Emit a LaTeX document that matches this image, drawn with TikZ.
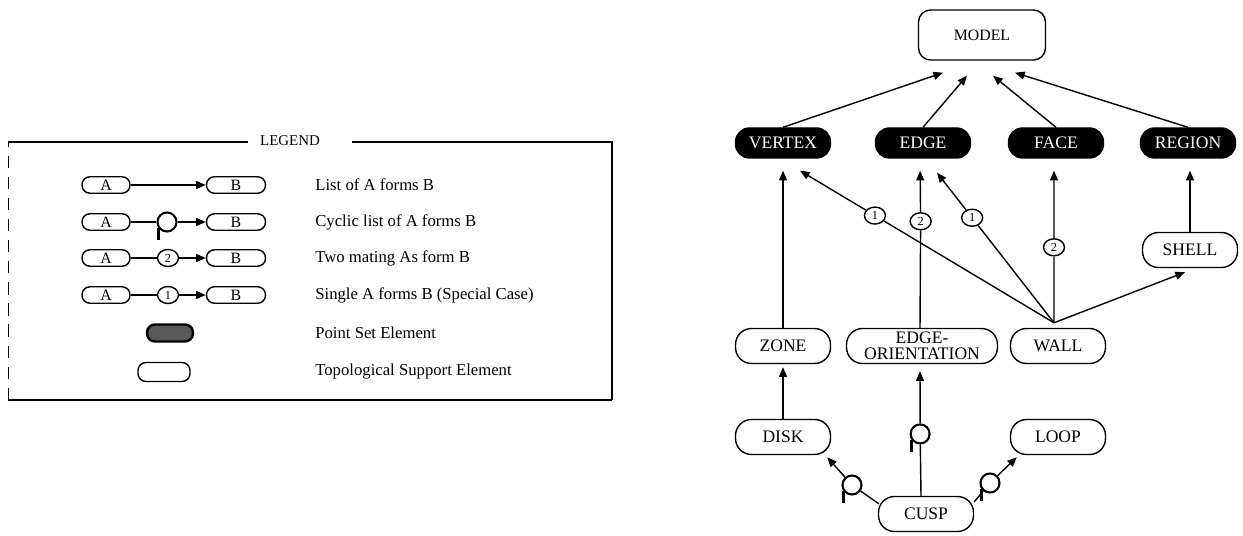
\documentclass[tikz,border=0pt]{standalone}
\usepackage{fontspec}
\setmainfont{Liberation Serif}
\usetikzlibrary{arrows.meta,calc,shapes.geometric}
\definecolor{tinta}{RGB}{0,0,0}
\definecolor{papel}{RGB}{255,255,255}

\tikzset{
  tse/.style={draw=tinta, line width=0.8pt, rounded corners=0.32cm, minimum width=1.9cm,
    minimum height=0.7cm, inner sep=1pt, align=center, font=\fontsize{10}{9}\selectfont},
  pse/.style={tse, minimum height=0.6cm, rounded corners=0.28cm, fill=tinta, text=papel},
  ltse/.style={draw=tinta, line width=0.8pt, rounded corners=0.16cm, minimum height=0.33cm,
    inner sep=1pt, font=\fontsize{9}{9}\selectfont},
  arr/.style={line width=0.8pt, -{Triangle[length=5.5pt,width=4.5pt]}},
  lnk/.style={line width=0.8pt},
  cnt/.style={ellipse, draw=tinta, line width=0.8pt, fill=papel, minimum width=0.42cm,
    minimum height=0.34cm, inner sep=0pt, font=\fontsize{7}{7}\selectfont},
  cyc/.style={circle, draw=tinta, line width=1.2pt, fill=papel, minimum size=0.38cm, inner sep=0pt},
  ltext/.style={anchor=west, inner sep=0pt, font=\fontsize{9.5}{10}\selectfont},
}

% cyclic list mark: ring with a short tail
\newcommand{\cycmark}[2]{%
  \node[cyc] (#1) at #2 {};
  \draw[line width=1.4pt] (#1.215) -- ++(0,-0.24cm);}

\begin{document}
\begin{tikzpicture}[x=0.02cm, y=-0.02cm]
  \useasboundingbox (0,0) rectangle (1243,536);

  % legend frame
  \node[font=\fontsize{8.5}{9}\selectfont] (legtitle) at (290,141) {LEGEND};
  \draw[line width=0.6pt] (legtitle.west) ++(-6,1) -- (8,142);
  \draw[line width=0.6pt] (legtitle.east) ++(26,1) -- (612,142) -- (612,400);
  \draw[line width=1pt] (612,400) -- (8,400);
  \draw[line width=0.5pt, dash pattern=on 7pt off 5pt] (8,400) -- (8,142);

  % legend rows
  \node[ltse, minimum width=0.96cm] (a1) at (106,185) {A};
  \node[ltse, minimum width=1.18cm] (b1) at (236,185) {B};
  \draw[arr] (a1) -- (b1);
  \node[ltext] (t1) at (315,185) {List of A forms B};

  \node[ltse, minimum width=0.96cm] (a2) at (106,222) {A};
  \cycmark{lcyc}{(167,222)}
  \node[ltse, minimum width=1.18cm] (b2) at (236,222) {B};
  \draw[lnk] (a2) -- (lcyc);
  \draw[arr] (lcyc) -- (b2);
  \node[ltext] (t2) at (315,222) {Cyclic list of A forms B};

  \node[ltse, minimum width=0.96cm] (a3) at (106,258) {A};
  \node[cnt] (ltwo) at (168,258) {2};
  \node[ltse, minimum width=1.18cm] (b3) at (236,258) {B};
  \draw[lnk] (a3) -- (ltwo);
  \draw[arr] (ltwo) -- (b3);
  \node[ltext] (t3) at (315,258) {Two mating As form B};

  \node[ltse, minimum width=0.96cm] (a4) at (106,295) {A};
  \node[cnt] (lone) at (168,295) {1};
  \node[ltse, minimum width=1.18cm] (b4) at (236,295) {B};
  \draw[lnk] (a4) -- (lone);
  \draw[arr] (lone) -- (b4);
  \node[ltext] (t4) at (315,295) {Single A forms B (Special Case)};

  \node[ltse, line width=1.4pt, fill=tinta!65, minimum width=0.92cm, minimum height=0.34cm] (lpse) at (170,333) {};
  \node[ltext] (t5) at (315,333) {Point Set Element};
  \node[ltse, minimum width=1.04cm, minimum height=0.38cm] (ltse) at (164,372) {};
  \node[ltext] (t6) at (315,372) {Topological Support Element};

  % model and point set elements
  \node[tse, minimum width=2.54cm, minimum height=1cm, rounded corners=0.24cm,
    font=\fontsize{9}{9}\selectfont] (model) at (982,35) {MODEL};
  \node[pse] (vertex) at (783,143) {VERTEX};
  \node[pse] (edge) at (923,143) {EDGE};
  \node[pse] (face) at (1056,143) {FACE};
  \node[pse] (region) at (1188,143) {REGION};

  % topological support elements
  \node[tse] (zone) at (783,346) {ZONE};
  \node[tse, minimum width=3.02cm] (eo) at (922,346) {EDGE-\\ORIENTATION};
  \node[tse] (wall) at (1058,346) {WALL};
  \node[tse] (shell) at (1190,250) {SHELL};
  \node[tse] (disk) at (783,437) {DISK};
  \node[tse] (loop) at (1058,437) {LOOP};
  \node[tse] (cusp) at (926,514) {CUSP};

  \draw[arr] (vertex.north) -- ($(model.south)+(-39,12)$);
  \draw[arr] (edge.north) -- ($(model.south)+(-15,15)$);
  \draw[arr] (face.north) -- ($(model.south)+(11,15)$);
  \draw[arr] (region.north) -- ($(model.south)+(33,12)$);

  \draw[arr, line width=0.6pt, shorten >=0.24cm] (zone.north) -- (vertex.south);

  \node[cnt] (eotwo) at ($(eo.north)!0.63!(edge.south)+(-2,0)$) {2};
  \draw[lnk] (eo.north) ++(-2,0) -- (eotwo);
  \draw[arr, shorten >=0.24cm] (eotwo) -- ($(edge.south)+(-3,0)$);

  \coordinate (wtop) at ($(wall.north)+(-4,-5)$);
  \node[cnt] (wone) at ($(wtop)!0.705!($(vertex.south)+(17,12)$)$) {1};
  \draw[lnk] (wtop) -- (wone);
  \draw[arr] (wone) -- ($(vertex.south)+(17,12)$);
  \node[cnt] (wtwo) at ($(wtop)!0.70!($(edge.south)+(14,14)$)$) {1};
  \draw[lnk] (wtop) -- (wtwo);
  \draw[arr] (wtwo) -- ($(edge.south)+(14,14)$);
  \node[cnt] (wthree) at ($(wtop)!0.46!(wtop |- face.south)$) {2};
  \draw[lnk] (wtop) -- (wthree);
  \draw[arr, shorten >=0.24cm] (wthree) -- (wtop |- face.south);
  \draw[arr] (wtop) -- ($(shell.south)+(-5,4)$);

  \draw[arr, line width=0.6pt, shorten >=0.24cm] (shell.north) -- (shell.north |- region.south);
  \draw[arr, shorten >=0.06cm] (disk.north) -- (zone.south);

  \cycmark{cyeo}{($(cusp.north)!0.47!(eo.south)+(-4,0)$)}
  \draw[lnk] (cusp.north) ++(-5,0) -- (cyeo);
  \draw[arr, shorten >=0.14cm] (cyeo) -- ($(eo.south)+(-2,0)$);

  \cycmark{cydisk}{(852,485)}
  \draw[lnk] ($(cusp.north west)+(1,8)$) -- (cydisk);
  \draw[arr] (cydisk) -- ($(disk.south east)+(-4,2)$);

  \cycmark{cyloop}{(990,483)}
  \draw[lnk] ($(cusp.north east)+(0,6)$) -- (cyloop);
  \draw[arr] (cyloop) -- ($(loop.south west)+(7,2)$);
\end{tikzpicture}
\end{document}
